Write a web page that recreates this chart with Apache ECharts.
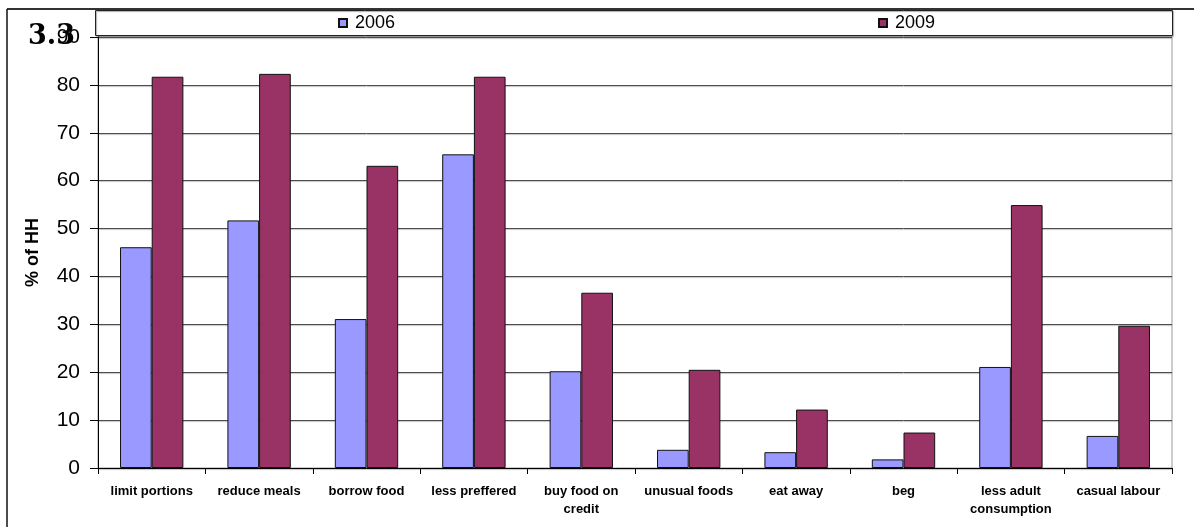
<!DOCTYPE html>
<html>
<head>
<meta charset="utf-8">
<script src="https://cdn.jsdelivr.net/npm/echarts@6/dist/echarts.min.js"></script>
<style>
  html, body { margin: 0; padding: 0; background: #fff; }
  #chart { width: 1194px; height: 527px; }
</style>
</head>
<body>
<div id="chart"></div>
<script>
// Coping strategies: share of households (%) using each strategy
const categories = [
  'limit portions', 'reduce meals', 'borrow food', 'less preffered',
  'buy food on\ncredit', 'unusual foods', 'eat away', 'beg',
  'less adult\nconsumption', 'casual labour'
];
const values2006 = [46.1, 51.7, 31.1, 65.5, 20.2, 3.8, 3.3, 1.8, 21.1, 6.7];
const values2009 = [81.7, 82.3, 63.1, 81.7, 36.6, 20.5, 12.2, 7.4, 54.9, 29.7];
const seriesNames = ['2006', '2009'];
const yTicks = { min: 0, max: 90, interval: 10 };

const FONT = '"Liberation Sans", Arial, sans-serif';
const chart = echarts.init(document.getElementById('chart'), null, { renderer: 'canvas' });

const legendCommon = {
  orient: 'horizontal',
  top: 13,
  padding: 0,
  icon: 'rect',
  itemWidth: 8,
  itemHeight: 8,
  itemGap: 0,
  selectedMode: false,
  textStyle: { fontFamily: FONT, fontSize: 18, color: '#000', padding: [0, 0, 0, 3], lineHeight: 20 }
};

chart.setOption({
  animation: false,
  backgroundColor: '#fff',
  legend: [
    Object.assign({}, legendCommon, { left: 338, data: [seriesNames[0]] }),
    Object.assign({}, legendCommon, { left: 878, data: [seriesNames[1]] })
  ],
  grid: {
    left: 98, right: 22, top: 37, bottom: 59,
    show: true, borderColor: '#999', borderWidth: 1, backgroundColor: 'transparent'
  },
  xAxis: {
    type: 'category',
    data: categories,
    axisLine: { lineStyle: { color: '#000', width: 1 } },
    axisTick: { show: true, alignWithLabel: false, length: 6, lineStyle: { color: '#000' } },
    axisLabel: {
      interval: 0, margin: 14, color: '#000',
      fontFamily: FONT, fontSize: 13, fontWeight: 'bold', lineHeight: 18, align: 'center'
    },
    splitLine: { show: false }
  },
  yAxis: {
    type: 'value',
    min: yTicks.min, max: yTicks.max, interval: yTicks.interval,
    name: '% of HH',
    nameLocation: 'middle',
    nameRotate: 90,
    nameGap: 56,
    nameTextStyle: { fontFamily: FONT, fontSize: 18, fontWeight: 'bold', color: '#000' },
    axisLine: { show: true, lineStyle: { color: '#000', width: 1 } },
    axisTick: { show: true, length: 8, inside: false, lineStyle: { color: '#000' } },
    axisLabel: { margin: 18, color: '#000', fontFamily: FONT, fontSize: 21 },
    splitLine: {
      show: true,
      lineStyle: { color: '#4d4d4d', width: 1, shadowColor: 'rgba(0,0,0,0.25)', shadowOffsetY: 1, shadowBlur: 1 }
    }
  },
  series: [
    {
      name: seriesNames[0], type: 'bar', data: values2006,
      barGap: '0%', barCategoryGap: '41%',
      itemStyle: { color: '#9999FF', borderColor: '#111', borderWidth: 1 }
    },
    {
      name: seriesNames[1], type: 'bar', data: values2009,
      barGap: '0%', barCategoryGap: '41%',
      itemStyle: { color: '#993366', borderColor: '#111', borderWidth: 1 }
    }
  ],
  graphic: [
    // outer frame (top and left edges)
    { type: 'line', shape: { x1: 7, y1: 9, x2: 1194, y2: 9 }, style: { stroke: '#333', lineWidth: 2 }, z: 10 },
    { type: 'line', shape: { x1: 7, y1: 9, x2: 7, y2: 527 }, style: { stroke: '#111', lineWidth: 1.5 }, z: 10 },
    // legend box
    {
      type: 'rect', shape: { x: 95.5, y: 10.5, width: 1077, height: 25 },
      style: { fill: 'transparent', stroke: '#222', lineWidth: 1, shadowColor: 'rgba(0,0,0,0.35)', shadowOffsetX: 1, shadowOffsetY: 1, shadowBlur: 1 },
      z: 5
    },
    // section number printed over the top of the value axis
    {
      type: 'text', left: 28, top: 23, z: 20,
      style: { text: '3.3', fill: '#000', font: 'bold 27px "DejaVu Serif", "Liberation Serif", serif' }
    }
  ]
});
</script>
</body>
</html>
